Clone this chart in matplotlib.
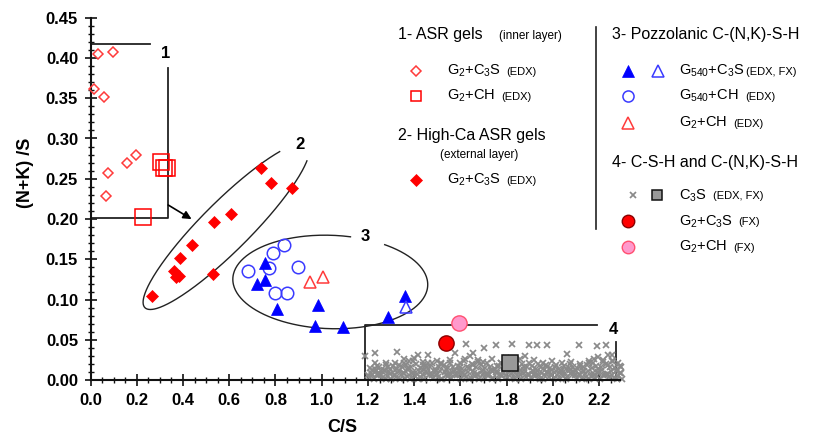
import numpy as np
import matplotlib
matplotlib.use("Agg")
import matplotlib.pyplot as plt
from matplotlib.ticker import MultipleLocator

plt.rcParams['font.family'] = ['Liberation Sans', 'DejaVu Sans']
plt.rcParams['mathtext.fontset'] = 'custom'
plt.rcParams['mathtext.rm'] = 'Liberation Sans'
plt.rcParams['mathtext.it'] = 'Liberation Sans:italic'
plt.rcParams['mathtext.bf'] = 'Liberation Sans:bold'
plt.rcParams['mathtext.default'] = 'regular'

# ---------------- data ----------------
# 1- ASR gels (inner layer)
g1_c3s_cs = [0.034, 0.098, 0.015, 0.060, 0.074, 0.067, 0.156, 0.196]
g1_c3s_nk = [0.405, 0.407, 0.362, 0.351, 0.257, 0.229, 0.269, 0.280]
g1_ch_cs = [0.303, 0.318, 0.330, 0.228]
g1_ch_nk = [0.271, 0.263, 0.263, 0.202]
# 2- High-Ca ASR gels (external layer)
g2_cs = [0.736, 0.782, 0.870, 0.606, 0.534, 0.437, 0.386, 0.362, 0.382, 0.370, 0.530, 0.264]
g2_nk = [0.264, 0.245, 0.239, 0.206, 0.197, 0.168, 0.152, 0.135, 0.130, 0.128, 0.132, 0.105]
# 3- Pozzolanic C-(N,K)-S-H
p_c3s_cs = [0.756, 0.756, 0.720, 0.806, 0.983, 0.969, 1.094, 1.285, 1.362]
p_c3s_nk = [0.146, 0.124, 0.119, 0.088, 0.093, 0.067, 0.066, 0.078, 0.105]
p_c3s_fx_cs = [1.365]
p_c3s_fx_nk = [0.091]
p_ch_cs = [0.837, 0.789, 0.770, 0.680, 0.897, 0.800, 0.851]
p_ch_nk = [0.168, 0.158, 0.139, 0.136, 0.141, 0.108, 0.108]
p_g2ch_cs = [0.950, 1.005]
p_g2ch_nk = [0.122, 0.128]
# 4- C-S-H and C-(N,K)-S-H
fx_g2c3s_cs = [1.537]
fx_g2c3s_nk = [0.0467]
fx_g2ch_cs = [1.592]
fx_g2ch_nk = [0.0715]
fx_c3s_cs = [1.815]
fx_c3s_nk = [0.0219]
csh_cs = [
    1.205, 1.225, 1.243, 1.262, 1.284, 1.301, 1.322, 1.345, 1.361, 1.383, 1.402, 1.424, 1.441, 1.463,
    1.482, 1.505, 1.522, 1.544, 1.561, 1.583, 1.604, 1.622, 1.645, 1.663, 1.681, 1.703, 1.725, 1.742,
    1.764, 1.781, 1.802, 1.824, 1.846, 1.862, 1.885, 1.903, 1.921, 1.944, 1.962, 1.983, 2.004, 2.022,
    2.045, 2.061, 2.083, 2.102, 2.124, 2.141, 2.163, 2.182, 2.205, 2.223, 2.241, 2.262, 2.281, 2.298,
    1.213, 1.234, 1.252, 1.273, 1.292, 1.312, 1.333, 1.352, 1.372, 1.393, 1.413, 1.432, 1.453, 1.472,
    1.493, 1.513, 1.534, 1.552, 1.573, 1.592, 1.613, 1.634, 1.653, 1.672, 1.694, 1.713, 1.733, 1.753,
    1.772, 1.793, 1.813, 1.834, 1.853, 1.874, 1.893, 1.913, 1.933, 1.952, 1.973, 1.993, 2.013, 2.033,
    2.053, 2.072, 2.093, 2.113, 2.132, 2.152, 2.173, 2.193, 2.213, 2.232, 2.252, 2.272, 2.291,
    1.208, 1.229, 1.248, 1.268, 1.288, 1.307, 1.327, 1.348, 1.366, 1.388, 1.407, 1.428, 1.447, 1.467,
    1.488, 1.508, 1.528, 1.548, 1.567, 1.588, 1.608, 1.628, 1.648, 1.668, 1.688, 1.708, 1.728, 1.748,
    1.768, 1.788, 1.808, 1.828, 1.848, 1.868, 1.888, 1.908, 1.928, 1.948, 1.968, 1.988, 2.008, 2.028,
    2.048, 2.068, 2.088, 2.108, 2.128, 2.148, 2.168, 2.188, 2.208, 2.228, 2.248, 2.268, 2.288,
    1.198, 1.218, 1.238, 1.257, 1.277, 1.297, 1.316, 1.337, 1.357, 1.377, 1.396, 1.417, 1.437, 1.457,
    1.476, 1.497, 1.517, 1.537, 1.556, 1.577, 1.597, 1.617, 1.636, 1.657, 1.677, 1.697, 1.716, 1.737,
    1.757, 1.777, 1.796, 1.817, 1.837, 1.857, 1.876, 1.897, 1.917, 1.937, 1.956, 1.977, 1.997, 2.017,
    2.036, 2.057, 2.077, 2.097, 2.116, 2.137, 2.157, 2.177, 2.196, 2.217, 2.237, 2.257, 2.276, 2.296,
    1.217, 1.237, 1.256, 1.276, 1.296, 1.315, 1.336, 1.356, 1.375, 1.396, 1.415, 1.436, 1.456, 1.475,
    1.496, 1.515, 1.536, 1.556, 1.575, 1.596, 1.615, 1.636, 1.656, 1.675, 1.696, 1.715, 1.736, 1.756,
    1.775, 1.796, 1.815, 1.836, 1.856, 1.875, 1.896, 1.915, 1.936, 1.956, 1.975, 1.996, 2.015, 2.036,
    2.056, 2.075, 2.096, 2.115, 2.136, 2.156, 2.175, 2.196, 2.215, 2.236, 2.256, 2.275, 2.295,
    1.232, 1.278, 1.318, 1.356, 1.378, 1.397, 1.436, 1.458, 1.497, 1.516, 1.556, 1.597, 1.618, 1.641,
    1.676, 1.699, 1.738, 1.776, 1.797, 1.818, 1.858, 1.879, 1.917, 1.958, 1.997, 2.037, 2.077, 2.118,
    2.157, 2.178, 2.197, 2.218, 2.236, 2.258, 2.283,
    1.189, 1.232, 1.324, 1.415, 1.460, 1.576, 1.624, 1.655, 1.703, 1.753, 1.825, 1.897, 1.933, 1.976,
    2.060, 2.113, 2.192, 2.228, 2.257,
]
csh_nk = [
    0.004, 0.002, 0.006, 0.003, 0.005, 0.002, 0.004, 0.006, 0.003, 0.002, 0.005, 0.004, 0.002, 0.006,
    0.003, 0.004, 0.002, 0.005, 0.003, 0.006, 0.002, 0.004, 0.003, 0.005, 0.002, 0.004, 0.006, 0.003,
    0.002, 0.005, 0.004, 0.003, 0.006, 0.002, 0.004, 0.003, 0.005, 0.002, 0.006, 0.004, 0.003, 0.002,
    0.005, 0.004, 0.006, 0.003, 0.002, 0.004, 0.005, 0.003, 0.002, 0.006, 0.004, 0.003, 0.005, 0.002,
    0.009, 0.011, 0.008, 0.012, 0.010, 0.007, 0.011, 0.009, 0.013, 0.010, 0.008, 0.012, 0.011, 0.009,
    0.007, 0.012, 0.010, 0.008, 0.011, 0.013, 0.009, 0.010, 0.012, 0.008, 0.011, 0.009, 0.013, 0.010,
    0.008, 0.012, 0.011, 0.009, 0.010, 0.013, 0.008, 0.011, 0.012, 0.009, 0.010, 0.008, 0.012, 0.011,
    0.009, 0.013, 0.010, 0.008, 0.011, 0.012, 0.009, 0.010, 0.013, 0.008, 0.011, 0.012, 0.009,
    0.015, 0.014, 0.017, 0.013, 0.016, 0.018, 0.014, 0.017, 0.019, 0.016, 0.020, 0.015, 0.018, 0.016,
    0.014, 0.017, 0.019, 0.015, 0.016, 0.018, 0.014, 0.017, 0.020, 0.016, 0.019, 0.015, 0.017, 0.014,
    0.018, 0.016, 0.019, 0.017, 0.015, 0.020, 0.016, 0.018, 0.014, 0.017, 0.019, 0.015, 0.016, 0.014,
    0.018, 0.015, 0.017, 0.014, 0.016, 0.019, 0.015, 0.018, 0.016, 0.020, 0.017, 0.015, 0.018,
    0.007, 0.006, 0.008, 0.007, 0.001, 0.008, 0.007, 0.001, 0.009, 0.006, 0.008, 0.001, 0.007, 0.009,
    0.006, 0.008, 0.001, 0.007, 0.009, 0.006, 0.008, 0.007, 0.001, 0.009, 0.006, 0.008, 0.007, 0.001,
    0.009, 0.007, 0.006, 0.008, 0.001, 0.007, 0.009, 0.006, 0.008, 0.007, 0.001, 0.009, 0.006, 0.007,
    0.008, 0.001, 0.009, 0.007, 0.006, 0.008, 0.001, 0.007, 0.009, 0.006, 0.008, 0.007, 0.001, 0.009,
    0.013, 0.018, 0.012, 0.021, 0.014, 0.013, 0.019, 0.022, 0.015, 0.024, 0.013, 0.019, 0.017, 0.021,
    0.012, 0.020, 0.014, 0.022, 0.013, 0.017, 0.024, 0.015, 0.019, 0.023, 0.013, 0.021, 0.012, 0.018,
    0.022, 0.014, 0.024, 0.020, 0.013, 0.017, 0.022, 0.012, 0.020, 0.014, 0.016, 0.013, 0.019, 0.012,
    0.014, 0.020, 0.013, 0.018, 0.012, 0.022, 0.021, 0.014, 0.023, 0.019, 0.024, 0.013, 0.016,
    0.021, 0.019, 0.022, 0.026, 0.024, 0.028, 0.023, 0.021, 0.024, 0.022, 0.025, 0.021, 0.027, 0.030,
    0.025, 0.023, 0.026, 0.022, 0.028, 0.024, 0.027, 0.030, 0.025, 0.022, 0.024, 0.021, 0.023, 0.020,
    0.024, 0.027, 0.029, 0.025, 0.031, 0.024, 0.022,
    0.030, 0.034, 0.0355, 0.031, 0.031, 0.034, 0.045, 0.0335, 0.040, 0.044, 0.045, 0.044, 0.044, 0.044,
    0.033, 0.044, 0.0425, 0.044, 0.031,
]

xtick_vals = [0.0, 0.2, 0.4, 0.6, 0.8, 1.0, 1.2, 1.4, 1.6, 1.8, 2.0, 2.2]
xtick_labels = ['0.0', '0.2', '0.4', '0.6', '0.8', '1.0', '1.2', '1.4', '1.6', '1.8', '2.0', '2.2']
ytick_vals = [0.0, 0.05, 0.10, 0.15, 0.20, 0.25, 0.30, 0.35, 0.40, 0.45]
ytick_labels = ['0.00', '0.05', '0.10', '0.15', '0.20', '0.25', '0.30', '0.35', '0.40', '0.45']

# ---------------- figure ----------------
W, H = 821, 436
fig = plt.figure(figsize=(W / 100, H / 100), dpi=100)
ax_l, ax_r, ax_t, ax_b = 90.5, 620.0, 17.6, 380.3
ax = fig.add_axes([ax_l / W, 1 - ax_b / H, (ax_r - ax_l) / W, (ax_b - ax_t) / H])
ax.patch.set_alpha(0)
XMAX, YMAX = 2.29, 0.45
ax.set_xlim(0, XMAX)
ax.set_ylim(0, YMAX)
for s in ['top', 'right']:
    ax.spines[s].set_visible(False)
for s in ['left', 'bottom']:
    ax.spines[s].set_linewidth(1.5)
    ax.spines[s].set_color('#111111')

ax.set_xticks(xtick_vals, xtick_labels, fontweight='bold', fontsize=12)
ax.set_yticks(ytick_vals, ytick_labels, fontweight='bold', fontsize=12)
ax.xaxis.set_minor_locator(MultipleLocator(0.05))
ax.yaxis.set_minor_locator(MultipleLocator(0.01))
ax.tick_params(which='major', direction='inout', length=8, width=1.2, pad=5, color='#111111')
ax.tick_params(which='minor', direction='inout', length=4.5, width=1.0, color='#111111')

# pixel scale of the data axes (for drawing round outlines)
sx = (ax_r - ax_l) / XMAX
sy = (ax_b - ax_t) / YMAX


def outline(cx, cy, a_px, b_px, ang, t0, t1):
    t = np.radians(np.linspace(t0, t1, 300))
    th = np.radians(ang)
    dx = a_px * np.cos(t) * np.cos(th) - b_px * np.sin(t) * np.sin(th)
    dy = a_px * np.cos(t) * np.sin(th) + b_px * np.sin(t) * np.cos(th)
    return cx + dx / sx, cy + dy / sy


lc = '#222222'
# group outlines
ex, ey = outline(0.587, 0.191, 115, 24.5, 45, 38, 334)
ax.plot(ex, ey, color=lc, lw=1.0, clip_on=False)
ex, ey = outline(1.037, 0.122, 97.5, 46.7, -2, 79, 417)
ax.plot(ex, ey, color=lc, lw=1.0, clip_on=False)
# boxes 1 and 4
ax.plot([0, 0.257], [0.417, 0.417], color=lc, lw=1.3, clip_on=False)
ax.plot([0.336, 0.336, 0], [0.387, 0.201, 0.201], color=lc, lw=1.3, clip_on=False)
ax.plot([2.19, 1.189, 1.189, 2.274, 2.274], [0.0686, 0.0686, 0.0, 0.0, 0.047], color=lc, lw=1.3,
        clip_on=False)
ax.annotate('', xy=(0.437, 0.200), xytext=(0.336, 0.2175),
            arrowprops=dict(arrowstyle='-|>', color='black', lw=1.2, mutation_scale=12,
                            shrinkA=0, shrinkB=0))
for lab, x, y in [('1', 0.326, 0.406), ('2', 0.904, 0.292), ('3', 1.188, 0.178), ('4', 2.261, 0.0636)]:
    ax.text(x, y, lab, fontsize=12, fontweight='bold', ha='center', va='center')

red = '#ff0000'
lred = '#ff3b3b'
blue = '#0000ff'
lblue = '#3a3aff'
gray_x = '#8a8a8a'

# marker styles
st_g1c3s = dict(marker='D', ms=5.6, mfc='none', mec=lred, mew=1.1, ls='none')
st_g1ch = dict(marker='s', ms=11, mfc='none', mec=red, mew=1.1, ls='none')
st_g2 = dict(marker='D', ms=6.5, mfc=red, mec=red, mew=0.5, ls='none')
st_pc3s = dict(marker='^', ms=9, mfc=blue, mec=blue, mew=0.5, ls='none')
st_pc3sfx = dict(marker='^', ms=9, mfc='none', mec=lblue, mew=1.1, ls='none')
st_pch = dict(marker='o', ms=9, mfc='none', mec=lblue, mew=1.1, ls='none')
st_pg2ch = dict(marker='^', ms=9, mfc='none', mec=lred, mew=1.1, ls='none')
st_csh = dict(marker='x', ms=4.6, mec=gray_x, mew=1.25, ls='none')
st_fxc3s = dict(marker='s', ms=12, mfc='#999999', mec='#111111', mew=1.1, ls='none')
st_fxg2c3s = dict(marker='o', ms=11, mfc=red, mec='#8b0000', mew=1.0, ls='none')
st_fxg2ch = dict(marker='o', ms=11, mfc='#ff99cc', mec='#ff5070', mew=1.0, ls='none')

ax.plot(csh_cs, csh_nk, clip_on=False, zorder=2, **st_csh)
ax.plot(g1_c3s_cs, g1_c3s_nk, clip_on=False, zorder=3, **st_g1c3s)
ax.plot(g1_ch_cs, g1_ch_nk, clip_on=False, zorder=3, **st_g1ch)
ax.plot(g2_cs, g2_nk, zorder=3, **st_g2)
ax.plot(p_ch_cs, p_ch_nk, zorder=3, **st_pch)
ax.plot(p_c3s_cs, p_c3s_nk, zorder=4, **st_pc3s)
ax.plot(p_c3s_fx_cs, p_c3s_fx_nk, zorder=4, **st_pc3sfx)
ax.plot(p_g2ch_cs, p_g2ch_nk, zorder=4, **st_pg2ch)
ax.plot(fx_c3s_cs, fx_c3s_nk, zorder=5, **st_fxc3s)
ax.plot(fx_g2c3s_cs, fx_g2c3s_nk, zorder=5, **st_fxg2c3s)
ax.plot(fx_g2ch_cs, fx_g2ch_nk, zorder=5, **st_fxg2ch)

# axis titles
fig.text(342 / W, 1 - 427 / H, 'C/S', fontsize=13, fontweight='bold', ha='center', va='center')
fig.text(26 / W, 1 - 173 / H, '(N+K) /S', fontsize=13, fontweight='bold', ha='center', va='center',
         rotation=90)

# ---------------- legend (pixel layout) ----------------
lax = fig.add_axes([0, 0, 1, 1])
lax.set_xlim(0, W)
lax.set_ylim(H, 0)
lax.axis('off')
lax.patch.set_alpha(0)

hdr = 11.5
main = 10.5
small = 8

lax.plot([596, 596], [27, 229], color='#222222', lw=1.2)


def tx(x, y, s, size, **kw):
    lax.text(x, y, s, fontsize=size, ha='left', va='center', **kw)


def key(x, y, style, **over):
    st = dict(style)
    st.update(over)
    lax.plot([x], [y], **st)


tx(398, 35, '1- ASR gels', hdr)
tx(499, 36, '(inner layer)', small + 0.5)
key(416, 71, st_g1c3s)
tx(446.7, 71, 'G$_2$+C$_3$S', main)
tx(506.7, 72, '(EDX)', small)
key(416, 96, st_g1ch, ms=7.5)
tx(446.7, 96, 'G$_2$+CH', main)
tx(501.7, 97, '(EDX)', small)
tx(398, 135, '2- High-Ca ASR gels', hdr)
tx(440, 155, '(external layer)', small + 0.5)
key(416, 180, st_g2)
tx(446.7, 180, 'G$_2$+C$_3$S', main)
tx(506.7, 181, '(EDX)', small)

tx(612, 35, '3- Pozzolanic C-(N,K)-S-H', hdr)
key(628.3, 71, st_pc3s, ms=8)
key(657.7, 71, st_pc3sfx, ms=8)
tx(679, 71, 'G$_{540}$+C$_3$S', main)
tx(745.7, 72, '(EDX, FX)', small)
key(628.3, 96, st_pch, ms=8)
tx(679, 96, 'G$_{540}$+CH', main)
tx(745, 97, '(EDX)', small)
key(628.3, 123, st_pg2ch, ms=8)
tx(679, 123, 'G$_2$+CH', main)
tx(733.3, 124, '(EDX)', small)
tx(612, 162, '4- C-S-H and C-(N,K)-S-H', hdr)
key(632.7, 195.3, st_csh, ms=5)
key(656.7, 195.3, st_fxc3s, ms=7.5)
tx(679, 195.3, 'C$_3$S', main)
tx(712.7, 196.3, '(EDX, FX)', small)
key(628.3, 221.3, st_fxg2c3s, ms=9)
tx(679, 221.3, 'G$_2$+C$_3$S', main)
tx(738.3, 222.3, '(FX)', small)
key(628.3, 246.7, st_fxg2ch, ms=9)
tx(679, 246.7, 'G$_2$+CH', main)
tx(733.3, 247.7, '(FX)', small)

fig.savefig('out.png', dpi=100)
